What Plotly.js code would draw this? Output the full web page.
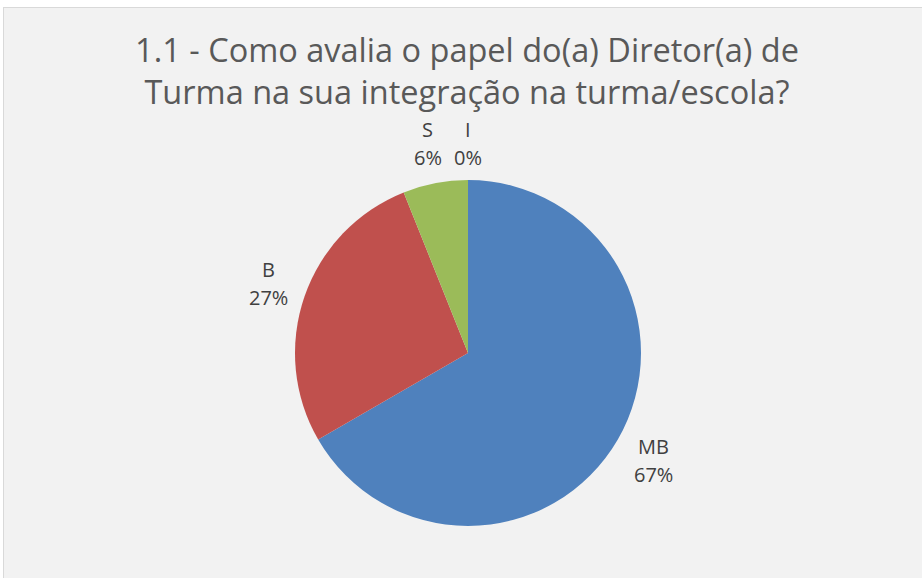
<!DOCTYPE html>
<html>
<head>
<meta charset="utf-8">
<script src="https://cdn.plot.ly/plotly-3.0.1.min.js"></script>
<style>
  html, body { margin: 0; padding: 0; background: #ffffff; }
  #wrap { position: relative; width: 922px; height: 578px; overflow: hidden; background: #ffffff; }
  #chart { position: absolute; left: 4px; top: 8px; width: 918px; height: 570px; }
  #bl { position: absolute; left: 3px; top: 7px; width: 1px; height: 571px; background: #d9d9d9; }
  #bt { position: absolute; left: 3px; top: 7px; width: 919px; height: 1px; background: #d9d9d9; }
</style>
</head>
<body>
<div id="wrap"><div id="chart"></div><div id="bl"></div><div id="bt"></div></div>
<script>
const categories = ["MB", "B", "S", "I"];
const counts = [22, 9, 2, 0];
const sliceColors = ["#4f81bd", "#c0504d", "#9bbb59", "#8064a2"];
const titleLines = ["1.1 - Como avalia o papel do(a) Diretor(a) de", "Turma na sua integração na turma/escola?"];

const W = 918, H = 570;
const cx = 464, cy = 345, R = 173;   // pie centre / radius in px (from top-left)

const trace = {
  type: "pie",
  labels: categories,
  values: counts,
  sort: false,
  direction: "clockwise",
  rotation: 0,
  marker: { colors: sliceColors, line: { width: 0 } },
  textinfo: "none",
  textposition: "none",
  hoverinfo: "label+percent",
  showlegend: false,
  automargin: false,
  domain: { x: [(cx - R) / W, (cx + R) / W], y: [(H - cy - R) / H, (H - cy + R) / H] }
};

// Data labels placed outside the slices, at each slice's mid-angle (Excel-style outside labels)
const total = counts.reduce((a, b) => a + b, 0);
const annotations = [];
const gap = 11, hw = 20, hh = 26, lineOff = 14;
const lblFont = { family: "Open Sans, sans-serif", size: 20, color: "#404040" };
let cum = 0;
counts.forEach((v, i) => {
  const mid = (cum + v / 2) / total * 2 * Math.PI;
  cum += v;
  const s = Math.sin(mid), c = Math.cos(mid);
  const r = R + gap + Math.abs(s) * hw + Math.abs(c) * hh;
  const px = cx + r * s;
  const py = cy - r * c;
  const pct = Math.round(v / total * 100) + "%";
  annotations.push({ xref: "paper", yref: "paper", x: px / W, y: (H - (py - lineOff)) / H,
    text: categories[i], showarrow: false, xanchor: "center", yanchor: "middle", font: lblFont });
  annotations.push({ xref: "paper", yref: "paper", x: px / W, y: (H - (py + lineOff)) / H,
    text: pct, showarrow: false, xanchor: "center", yanchor: "middle", font: lblFont });
});

const layout = {
  width: W, height: H,
  margin: { l: 0, r: 0, t: 0, b: 0 },
  paper_bgcolor: "#f2f2f2",
  plot_bgcolor: "#f2f2f2",
  title: {
    text: titleLines.join("<br>"),
    font: { family: "Open Sans, sans-serif", size: 32.5, color: "#595959" },
    xref: "container", yref: "container",
    x: 463 / W, xanchor: "center",
    y: 1 - 54 / H, yanchor: "middle"
  },
  annotations: annotations,
  showlegend: false
};

Plotly.newPlot("chart", [trace], layout, { displayModeBar: false, staticPlot: true });
</script>
</body>
</html>
